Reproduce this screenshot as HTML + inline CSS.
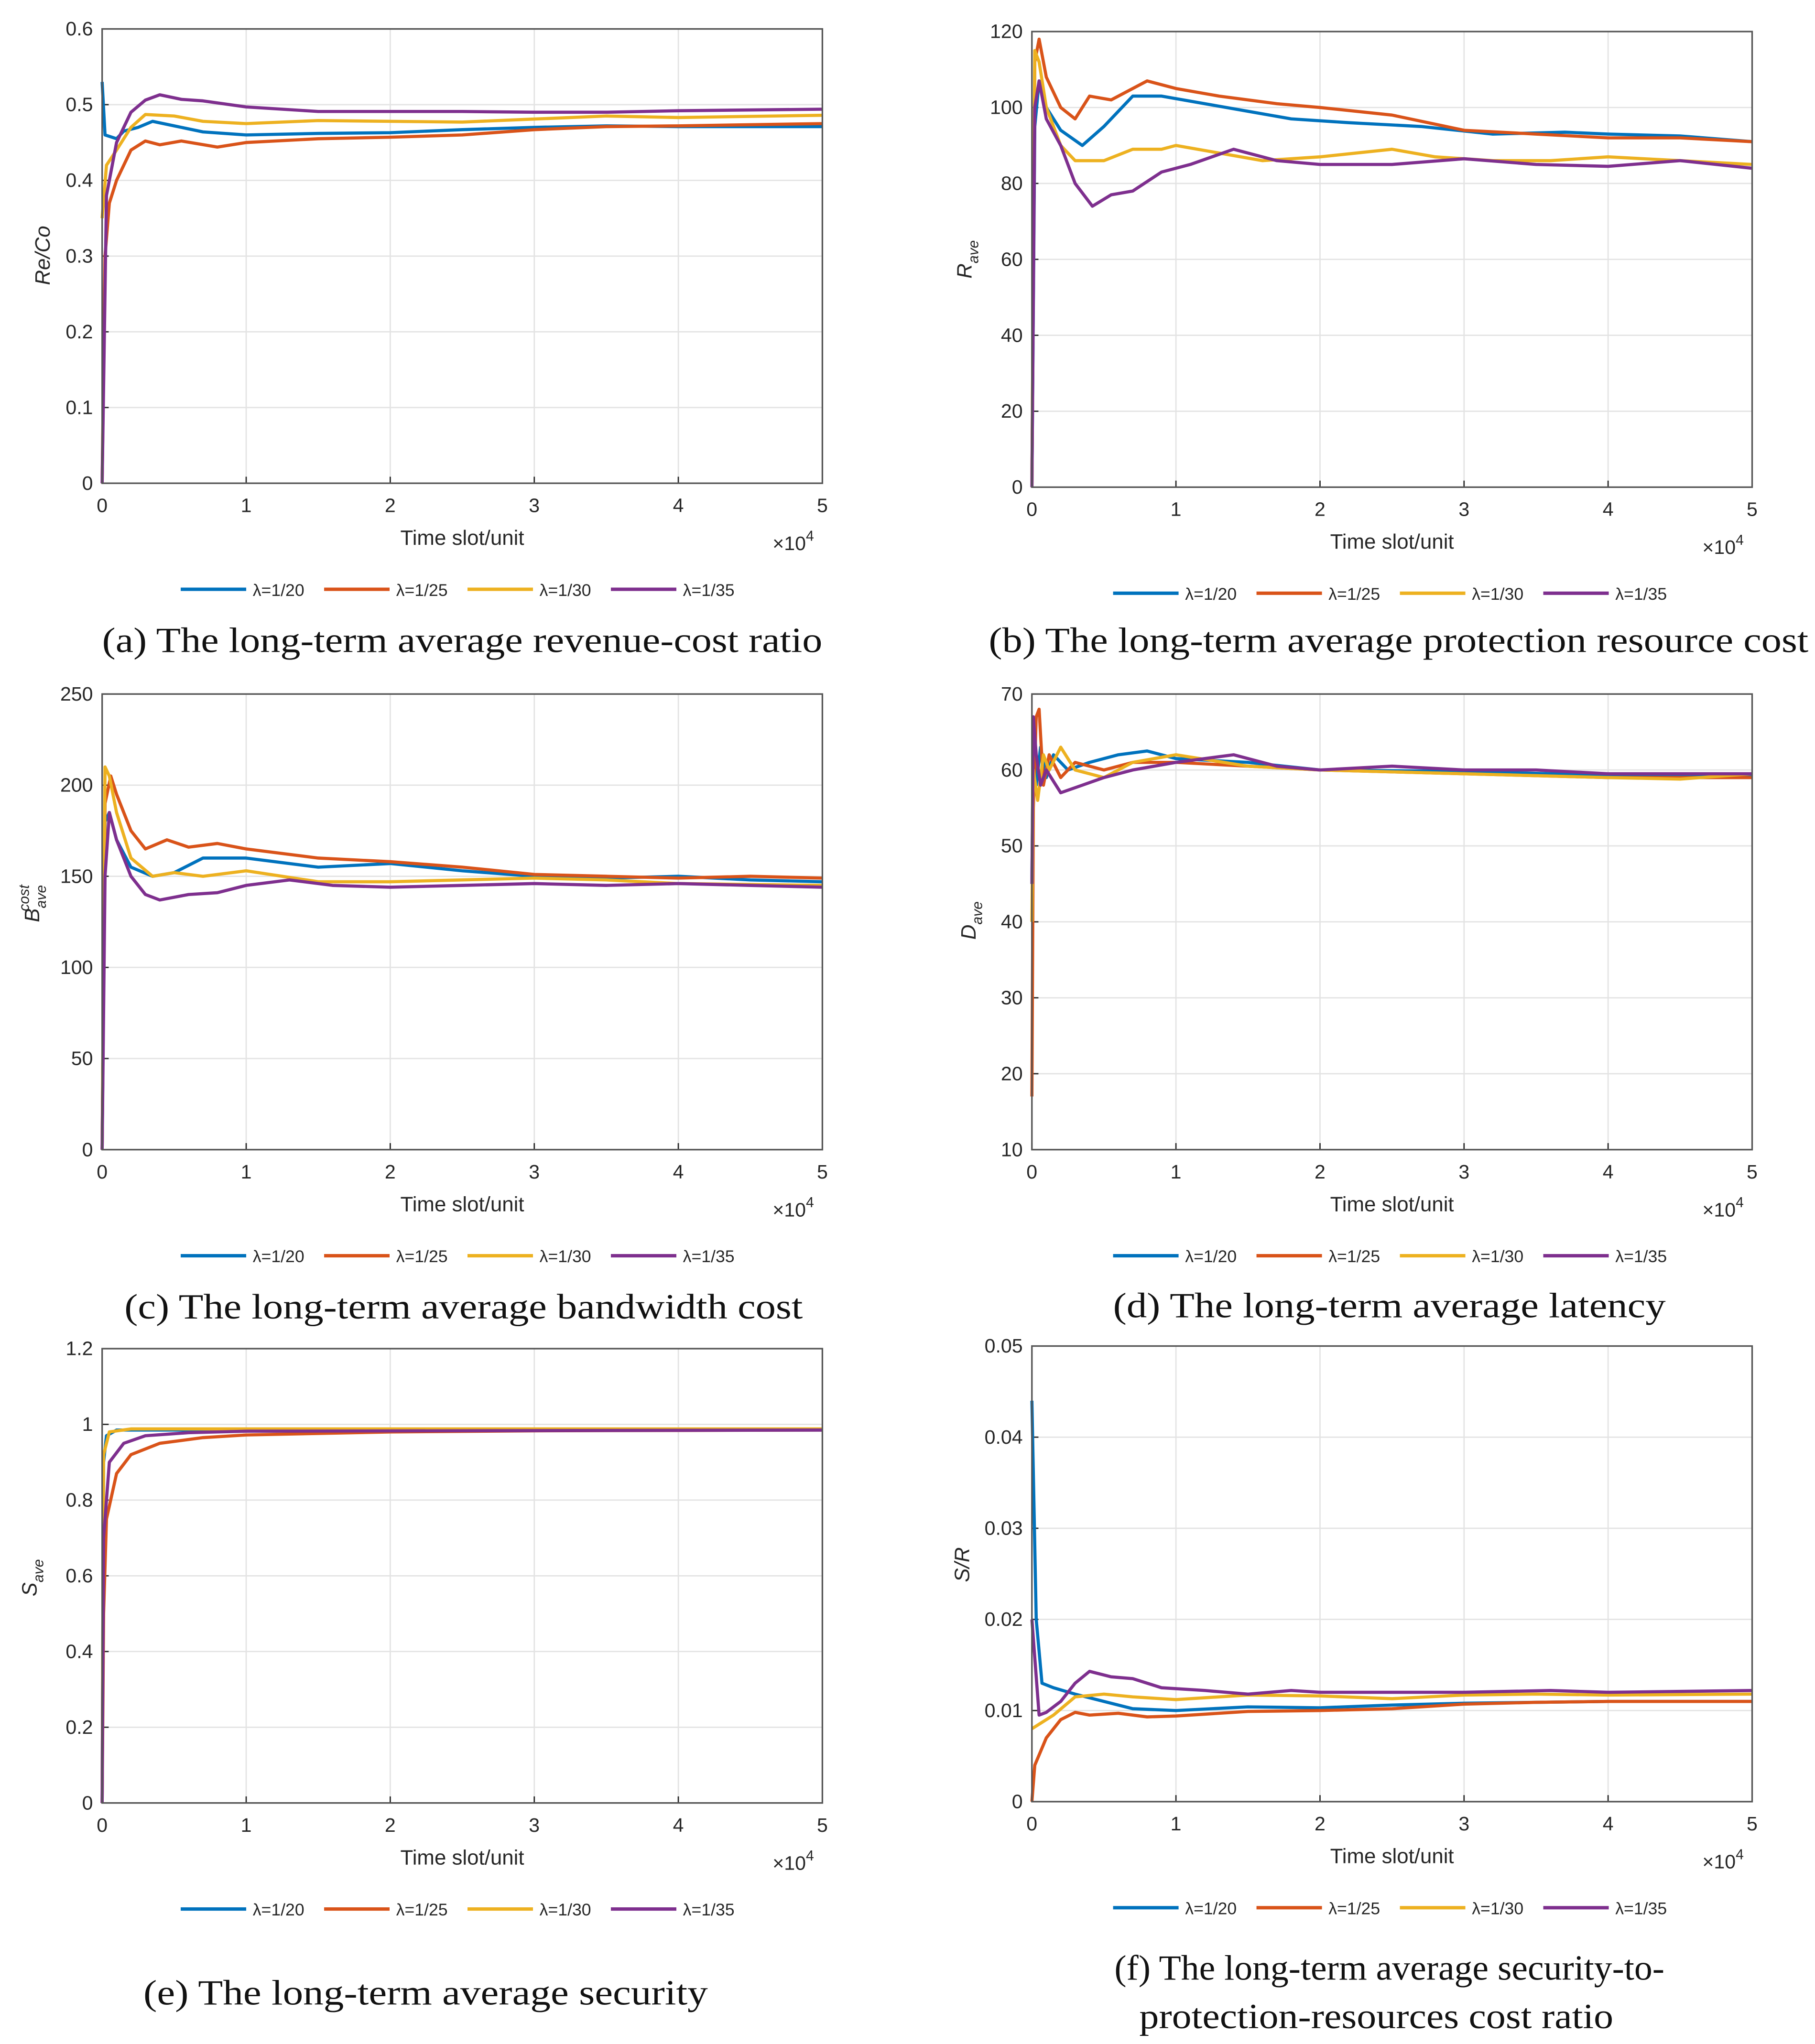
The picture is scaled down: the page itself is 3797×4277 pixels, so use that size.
<!DOCTYPE html>
<html><head><meta charset="utf-8"><style>
html,body{margin:0;padding:0;background:#fff;}
svg{display:block;}
</style></head><body>
<svg id="fig" width="3797" height="4277" viewBox="0 0 1386 1561" xmlns="http://www.w3.org/2000/svg"></svg>
<script>
const seriesNames = ["λ=1/20","λ=1/25","λ=1/30","λ=1/35"];
const xTicks = [0,1,2,3,4,5];

const aBlue   = [[0,0.53],[0.02,0.46],[0.1,0.455],[0.15,0.465],[0.25,0.47],[0.35,0.478],[0.5,0.472],[0.7,0.464],[1,0.46],[1.5,0.462],[2,0.463],[2.5,0.467],[3,0.47],[3.5,0.472],[4,0.471],[5,0.471]];
const aOrange = [[0,0],[0.02,0.3],[0.05,0.37],[0.1,0.4],[0.2,0.44],[0.3,0.452],[0.4,0.447],[0.55,0.452],[0.8,0.444],[1,0.45],[1.5,0.455],[2,0.457],[2.5,0.46],[3,0.467],[3.5,0.471],[4,0.472],[5,0.475]];
const aYellow = [[0,0.35],[0.03,0.42],[0.1,0.44],[0.2,0.47],[0.3,0.487],[0.5,0.485],[0.7,0.478],[1,0.475],[1.5,0.479],[2,0.478],[2.5,0.477],[3,0.481],[3.5,0.485],[4,0.483],[5,0.486]];
const aPurple = [[0,0],[0.03,0.38],[0.1,0.45],[0.2,0.49],[0.3,0.506],[0.4,0.513],[0.55,0.507],[0.7,0.505],[1,0.497],[1.5,0.491],[2,0.491],[2.5,0.491],[3,0.49],[3.5,0.49],[4,0.492],[5,0.494]];
const aYTicks = [0,0.1,0.2,0.3,0.4,0.5,0.6];

const bBlue   = [[0,0],[0.02,95],[0.05,107],[0.1,100],[0.2,94],[0.35,90],[0.5,95],[0.7,103],[0.9,103],[1.2,101],[1.5,99],[1.8,97],[2.2,96],[2.7,95],[3.2,93],[3.7,93.5],[4,93],[4.5,92.5],[5,91]];
const bOrange = [[0,0],[0.02,112],[0.05,118],[0.1,108],[0.2,100],[0.3,97],[0.4,103],[0.55,102],[0.8,107],[1,105],[1.3,103],[1.7,101],[2,100],[2.5,98],[3,94],[3.5,93],[4,92],[4.5,92],[5,91]];
const bYellow = [[0,0],[0.02,115],[0.05,112],[0.1,100],[0.2,90],[0.3,86],[0.5,86],[0.7,89],[0.9,89],[1,90],[1.3,88],[1.6,86],[2,87],[2.5,89],[2.8,87],[3.2,86],[3.6,86],[4,87],[4.5,86],[5,85]];
const bPurple = [[0,0],[0.02,100],[0.05,107],[0.1,97],[0.2,90],[0.3,80],[0.42,74],[0.55,77],[0.7,78],[0.9,83],[1.1,85],[1.4,89],[1.7,86],[2,85],[2.5,85],[3,86.5],[3.5,85],[4,84.5],[4.5,86],[5,84]];
const bYTicks = [0,20,40,60,80,100,120];

const cBlue   = [[0,0],[0.02,180],[0.05,185],[0.1,170],[0.2,155],[0.35,150],[0.5,152],[0.7,160],[1,160],[1.5,155],[2,157],[2.5,153],[3,150],[3.5,149],[4,150],[4.5,148],[5,147]];
const cOrange = [[0,0],[0.02,190],[0.06,205],[0.1,195],[0.2,175],[0.3,165],[0.45,170],[0.6,166],[0.8,168],[1,165],[1.5,160],[2,158],[2.5,155],[3,151],[3.5,150],[4,149],[4.5,150],[5,149]];
const cYellow = [[0,0],[0.02,210],[0.05,205],[0.1,185],[0.2,160],[0.35,150],[0.5,152],[0.7,150],[1,153],[1.5,147],[2,147],[2.5,148],[3,149],[3.5,148],[4,146],[5,145]];
const cPurple = [[0,0],[0.02,150],[0.05,185],[0.1,170],[0.2,150],[0.3,140],[0.4,137],[0.6,140],[0.8,141],[1,145],[1.3,148],[1.6,145],[2,144],[2.5,145],[3,146],[3.5,145],[4,146],[4.5,145],[5,144]];
const cYTicks = [0,50,100,150,200,250];

const dBlue   = [[0,45],[0.01,65],[0.03,58],[0.06,63],[0.1,59],[0.15,62],[0.25,60],[0.4,61],[0.6,62],[0.8,62.5],[1,61.5],[1.5,61],[2,60],[3,59.8],[4,59.3],[5,59.2]];
const dOrange = [[0,17],[0.01,55],[0.03,67],[0.05,68],[0.08,58],[0.12,62],[0.2,59],[0.3,61],[0.5,60],[0.7,61],[1,61],[1.5,60.5],[2,60],[3,59.5],[4,59],[5,59]];
const dYellow = [[0,40],[0.01,60],[0.04,56],[0.08,62],[0.12,60],[0.2,63],[0.3,60],[0.5,59],[0.7,61],[1,62],[1.5,60.5],[2,60],[3,59.5],[4,59],[4.5,58.8],[5,59.5]];
const dPurple = [[0,45],[0.01,67],[0.03,62],[0.06,58],[0.1,60],[0.2,57],[0.35,58],[0.5,59],[0.7,60],[1,61],[1.4,62],[1.7,60.5],[2,60],[2.5,60.5],[3,60],[3.5,60],[4,59.5],[5,59.5]];
const dYTicks = [10,20,30,40,50,60,70];

const eBlue   = [[0,0],[0.01,0.9],[0.03,0.97],[0.1,0.985],[5,0.985]];
const eOrange = [[0,0],[0.01,0.5],[0.03,0.75],[0.1,0.87],[0.2,0.92],[0.4,0.95],[0.7,0.965],[1,0.972],[2,0.98],[3,0.983],[5,0.985]];
const eYellow = [[0,0],[0.01,0.92],[0.05,0.98],[0.2,0.988],[5,0.988]];
const ePurple = [[0,0],[0.01,0.7],[0.05,0.9],[0.15,0.95],[0.3,0.97],[0.6,0.978],[1,0.982],[5,0.985]];
const eYTicks = [0,0.2,0.4,0.6,0.8,1,1.2];

const fBlue   = [[0,0.044],[0.03,0.02],[0.07,0.013],[0.15,0.0125],[0.3,0.0118],[0.5,0.011],[0.7,0.0102],[1,0.01],[1.5,0.0104],[2,0.0103],[2.5,0.0106],[3,0.0108],[4,0.011],[5,0.011]];
const fOrange = [[0,0],[0.02,0.004],[0.1,0.007],[0.2,0.009],[0.3,0.0098],[0.4,0.0095],[0.6,0.0097],[0.8,0.0093],[1,0.0094],[1.5,0.0099],[2,0.01],[2.5,0.0102],[3,0.0107],[3.5,0.0109],[4,0.011],[5,0.011]];
const fYellow = [[0,0.008],[0.05,0.0085],[0.15,0.0095],[0.3,0.0115],[0.5,0.0118],[0.7,0.0115],[1,0.0112],[1.5,0.0117],[2,0.0116],[2.5,0.0113],[3,0.0117],[3.5,0.0118],[4,0.0117],[5,0.0118]];
const fPurple = [[0,0.02],[0.05,0.0095],[0.1,0.0098],[0.2,0.011],[0.3,0.013],[0.4,0.0143],[0.55,0.0137],[0.7,0.0135],[0.9,0.0125],[1.2,0.0122],[1.5,0.0118],[1.8,0.0122],[2,0.012],[3,0.012],[3.6,0.0122],[4,0.012],[5,0.0122]];
const fYTicks = [0,0.01,0.02,0.03,0.04,0.05];

const NS="http://www.w3.org/2000/svg";
const svg=document.getElementById('fig');
const colors=["#0072BD","#D95319","#EDB120","#7E2F8E"];
function mk(tag,attrs,parent){const e=document.createElementNS(NS,tag);for(const k in attrs)e.setAttribute(k,attrs[k]);(parent||svg).appendChild(e);return e;}

function panel(id,L,T,R,B,yTicks,series,ylabelHTML,ylx,yly,legX,legY,caption){
  const g=mk('g',{});
  
  
  const y0=yTicks[0],y1=yTicks[yTicks.length-1];
  const sx=v=>L+(v-0)/(5-0)*(R-L);
  const sy=v=>B-(v-y0)/(y1-y0)*(B-T);
  mk('rect',{x:L,y:T,width:R-L,height:B-T,fill:'#fff'},g);
  xTicks.forEach(t=>{
    const gl=mk('line',{x1:sx(t),x2:sx(t),y1:T,y2:B,stroke:'#e3e3e3','stroke-width':1},g);
    
    
    const tx=mk('text',{x:sx(t),y:B+22,'font-family':'Liberation Sans, sans-serif','font-size':15,fill:'#262626','text-anchor':'middle'},g);
    tx.textContent=t;
    
    
    mk('line',{x1:sx(t),x2:sx(t),y1:B,y2:B-5,stroke:'#262626','stroke-width':1},g);
  });
  yTicks.forEach(t=>{
    const gl=mk('line',{x1:L,x2:R,y1:sy(t),y2:sy(t),stroke:'#e3e3e3','stroke-width':1},g);
    
    
    const tx=mk('text',{x:L-7,y:sy(t)+5,'font-family':'Liberation Sans, sans-serif','font-size':15,fill:'#262626','text-anchor':'end'},g);
    tx.textContent=t;
    
    
    mk('line',{x1:L,x2:L+5,y1:sy(t),y2:sy(t),stroke:'#262626','stroke-width':1},g);
  });
  series.forEach((s,i)=>{
    const p=mk('polyline',{points:s.map(d=>sx(d[0]).toFixed(2)+','+sy(d[1]).toFixed(2)).join(' '),fill:'none',stroke:colors[i],'stroke-width':2.4,'stroke-linejoin':'round'},g);
    
    
  });
  const box=mk('rect',{x:L,y:T,width:R-L,height:B-T,fill:'none',stroke:'#555','stroke-width':1.2},g);
  
  
  const xt=mk('text',{x:(L+R)/2,y:B+47,'font-family':'Liberation Sans, sans-serif','font-size':16,fill:'#262626','text-anchor':'middle'},g);
  xt.textContent='Time slot/unit';
  
  
  const ex=mk('text',{x:R-38,y:B+51,'font-family':'Liberation Sans, sans-serif','font-size':15,fill:'#262626'},g);
  ex.innerHTML='×10<tspan dy="-7" font-size="11">4</tspan>';
  
  
  const yl=mk('text',{x:0,y:0,transform:'translate('+ylx+','+yly+') rotate(-90)','font-family':'Liberation Sans, sans-serif','font-size':16,'font-style':'italic',fill:'#262626','text-anchor':'middle'},g);
  yl.innerHTML=ylabelHTML;
  
  
  seriesNames.forEach((n,i)=>{
    const x=legX+i*109.5;
    const ln=mk('line',{x1:x,x2:x+50,y1:legY,y2:legY,stroke:colors[i],'stroke-width':2.6},g);
    
    
    const lt=mk('text',{x:x+55,y:legY+5,'font-family':'Liberation Sans, sans-serif','font-size':13,fill:'#262626'},g);
    lt.textContent=n;
    
    
  });
  caption.forEach(c=>{
    const ct=mk('text',{x:c[0],y:c[1],'font-family':'Liberation Serif, serif','font-size':27,fill:'#111','text-anchor':'middle',textLength:c[3],lengthAdjust:'spacingAndGlyphs'},g);
    ct.textContent=c[2];
    
    
  });
}

panel('a',78,22,628,369,aYTicks,[aBlue,aOrange,aYellow,aPurple],'Re/Co',38,195,138,450,[[353,498,'(a)  The long-term average revenue-cost ratio',550]]);
panel('b',788,24,1338,372,bYTicks,[bBlue,bOrange,bYellow,bPurple],'R<tspan dy="5" font-size="11">ave</tspan>',742,198,850,453,[[1068,498,'(b)  The long-term average protection resource cost',626]]);
panel('c',78,530,628,878,cYTicks,[cBlue,cOrange,cYellow,cPurple],'B<tspan dy="5" font-size="11">ave</tspan><tspan dx="-20" dy="-13" font-size="11">cost</tspan>',30,690,138,959,[[354,1007,'(c)  The long-term average bandwidth cost',518]]);
panel('d',788,530,1338,878,dYTicks,[dBlue,dOrange,dYellow,dPurple],'D<tspan dy="5" font-size="11">ave</tspan>',745,703,850,959,[[1061,1006,'(d)  The long-term average latency',422]]);
panel('e',78,1030,628,1377,eYTicks,[eBlue,eOrange,eYellow,ePurple],'S<tspan dy="5" font-size="11">ave</tspan>',28,1205,138,1458,[[325,1531,'(e)  The long-term average security',431]]);
panel('f',788,1028,1338,1376,fYTicks,[fBlue,fOrange,fYellow,fPurple],'S/R',740,1195,850,1457,[[1061,1512,'(f)  The long-term average security-to-',420],[1051,1549,'protection-resources cost ratio',362]]);
</script>
</body></html>
